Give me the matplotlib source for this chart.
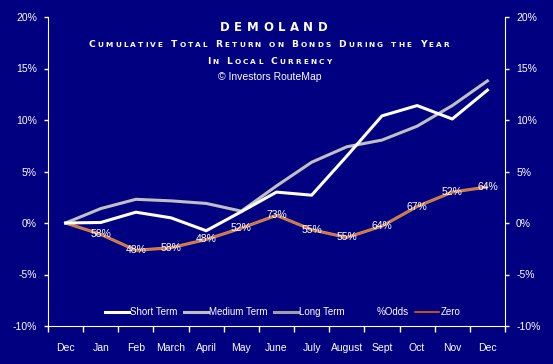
import matplotlib
matplotlib.use("Agg")
import matplotlib.pyplot as plt
from matplotlib.lines import Line2D

months = ['Dec', 'Jan', 'Feb', 'March', 'April', 'May', 'June', 'July',
          'August', 'Sept', 'Oct', 'Nov', 'Dec']
short_term = [0, 0.05, 1.05, 0.5, -0.75, 1.1, 3.0, 2.7, 6.5, 10.4, 11.4, 10.1, 12.9]
medium_term = [0, 1.4, 2.3, 2.15, 1.9, 1.15, 3.6, 5.9, 7.4, 8.05, 9.4, 11.4, 13.8]
long_term = [0, -1.1, -2.65, -2.4, -1.6, -0.5, 0.75, -0.65, -1.4, -0.3, 1.6, 3.0, 3.5]
odds = [None, 58, 48, 58, 48, 52, 73, 55, 55, 64, 67, 52, 64]
yticks = [-10, -5, 0, 5, 10, 15, 20]

navy = '#000080'
narrow = ['Liberation Sans Narrow', 'Liberation Sans', 'DejaVu Sans']
plt.rcParams['font.family'] = narrow

fig = plt.figure(figsize=(5.53, 3.64), dpi=100, facecolor=navy)
ax = fig.add_axes([48 / 553, 38 / 364, 457 / 553, 309 / 364], facecolor=navy)

x = list(range(len(months)))
ax.plot(x, long_term, color='#A0A0A0', lw=2.2, solid_capstyle='butt', zorder=2)
ax.plot(x, long_term, color='#FF6600', lw=1.1, zorder=3)
ax.plot(x, medium_term, color='#C0C0C0', lw=2.2, zorder=4)
ax.plot(x, short_term, color='white', lw=2.2, zorder=5)

for i, v in enumerate(odds):
    if v is None:
        continue
    ax.text(i, long_term[i], '%d%%' % v, color='white', fontsize=7.5,
            ha='center', va='center', zorder=6)

ax.set_xlim(-0.5, 12.5)
ax.set_ylim(-10, 20)
ax.set_yticks(yticks)
ax.set_yticklabels(['%d%%' % t for t in yticks])
ax.tick_params(axis='y', colors='white', labelsize=7.5, length=3, width=1,
               direction='out', pad=5, right=True, labelright=True)
ax.set_xticks([i - 0.5 for i in range(len(months) + 1)])
ax.set_xticklabels([])
ax.set_xticks(x, minor=True)
ax.set_xticklabels(months, minor=True)
ax.tick_params(axis='x', which='major', colors='white', length=4, width=1)
ax.tick_params(axis='x', which='minor', colors='white', length=0,
               labelsize=7.5, pad=12)
for s in ['left', 'right', 'bottom']:
    ax.spines[s].set_color('white')
ax.spines['top'].set_visible(False)

handles = [Line2D([], [], color='white', lw=2.2),
           Line2D([], [], color='#C0C0C0', lw=2.2),
           Line2D([], [], color='#A0A0A0', lw=2.2),
           Line2D([], [], color=navy, lw=0),
           Line2D([], [], color='#FF6600', lw=1.1)]
leg = ax.legend(handles, ['Short Term', 'Medium Term', 'Long Term', '%Odds', 'Zero'],
                ncol=5, loc='center', bbox_to_anchor=(0.513, 0.045), frameon=False,
                fontsize=7, handlelength=2.5, handletextpad=0.15,
                columnspacing=0.6, borderpad=0)
for t in leg.get_texts():
    t.set_color('white')

renderer = fig.canvas.get_renderer()


def spaced_text(cx, y, s, big, small, track, space):
    # draw text char by char, lower case letters as smaller capitals
    parts = []
    for ch in s:
        if ch == ' ':
            parts.append((None, space))
            continue
        size = big if not ch.islower() else small
        t = fig.text(0, 0, ch.upper(), fontsize=size, fontweight='bold',
                     family='DejaVu Sans')
        w = t.get_window_extent(renderer).width
        t.remove()
        parts.append((ch.upper(), size, w))
    total = 0
    for p in parts:
        total += p[1] if p[0] is None else p[2] + track
    xpos = cx - total / 2
    for p in parts:
        if p[0] is None:
            xpos += p[1]
            continue
        fig.text(xpos / 553, 1 - y / 364, p[0], fontsize=p[1], fontweight='bold',
                 family='DejaVu Sans', color='white', ha='left', va='baseline')
        xpos += p[2] + track


spaced_text(276, 31, 'DEMOLAND', 8.5, 8.5, 4.5, 6)
spaced_text(270, 47, 'Cumulative Total Return on Bonds During the Year',
            6.6, 5.3, 2.1, 6)
spaced_text(270, 64, 'In Local Currency', 6.6, 5.3, 2.1, 6)
fig.text(270 / 553, 1 - 77 / 364, '\u00a9 Investors RouteMap', color='white',
         fontsize=7.5, ha='center', va='center')

fig.savefig('out.png', dpi=100, facecolor=navy)
